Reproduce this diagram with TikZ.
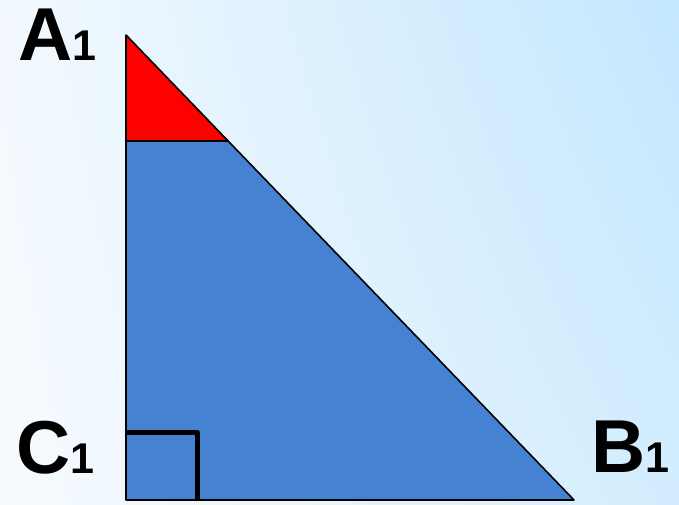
\documentclass[tikz,border=0pt]{standalone}
\usepackage{fontspec}
\setmainfont{Liberation Sans}
\usetikzlibrary{shadings}
\definecolor{bgTR}{HTML}{C3E7FE}
\definecolor{bgBR}{HTML}{D3EDFE}
\definecolor{bgTL}{HTML}{F3F9FE}
\definecolor{bgBL}{HTML}{F7FBFE}
\definecolor{triblue}{HTML}{4682D2}
\tikzset{
  lbl/.style={anchor=base west, inner sep=0pt, font=\bfseries},
  edge/.style={draw=black, line width=1.6pt, line join=round},
  rmark/.style={draw=black, line width=5pt, line join=round},
}
\newcommand{\vlab}[1]{{\fontsize{75}{75}\selectfont #1}{\fontsize{43}{43}\selectfont 1}}
\begin{document}
\begin{tikzpicture}[x=1pt,y=-1pt]
\useasboundingbox (0,0) rectangle (679,505);
\shade[upper left=bgTL, upper right=bgTR, lower left=bgBL, lower right=bgBR] (0,0) rectangle (679,505);
\coordinate (A) at (126,35);
\coordinate (C) at (126,500);
\coordinate (B) at (574,500);
\coordinate (P) at (126,141);
\coordinate (Q) at (228.1,141);
\coordinate (R1) at (126,432);
\coordinate (R2) at (197,432);
\coordinate (R3) at (197,500);
\fill[triblue] (P) -- (Q) -- (B) -- (C) -- cycle;
\fill[red] (A) -- (Q) -- (P) -- cycle;
\draw[rmark] (R1) -- (R2) -- (R3);
\draw[edge] (A) -- (B) -- (C) -- cycle;
\draw[edge] (P) -- (Q);
\node[lbl] (lA) at (18,61) {\vlab{A}};
\node[lbl] (lC) at (16,473) {\vlab{C}};
\node[lbl] (lB) at (591,472) {\vlab{B}};
\end{tikzpicture}
\end{document}
